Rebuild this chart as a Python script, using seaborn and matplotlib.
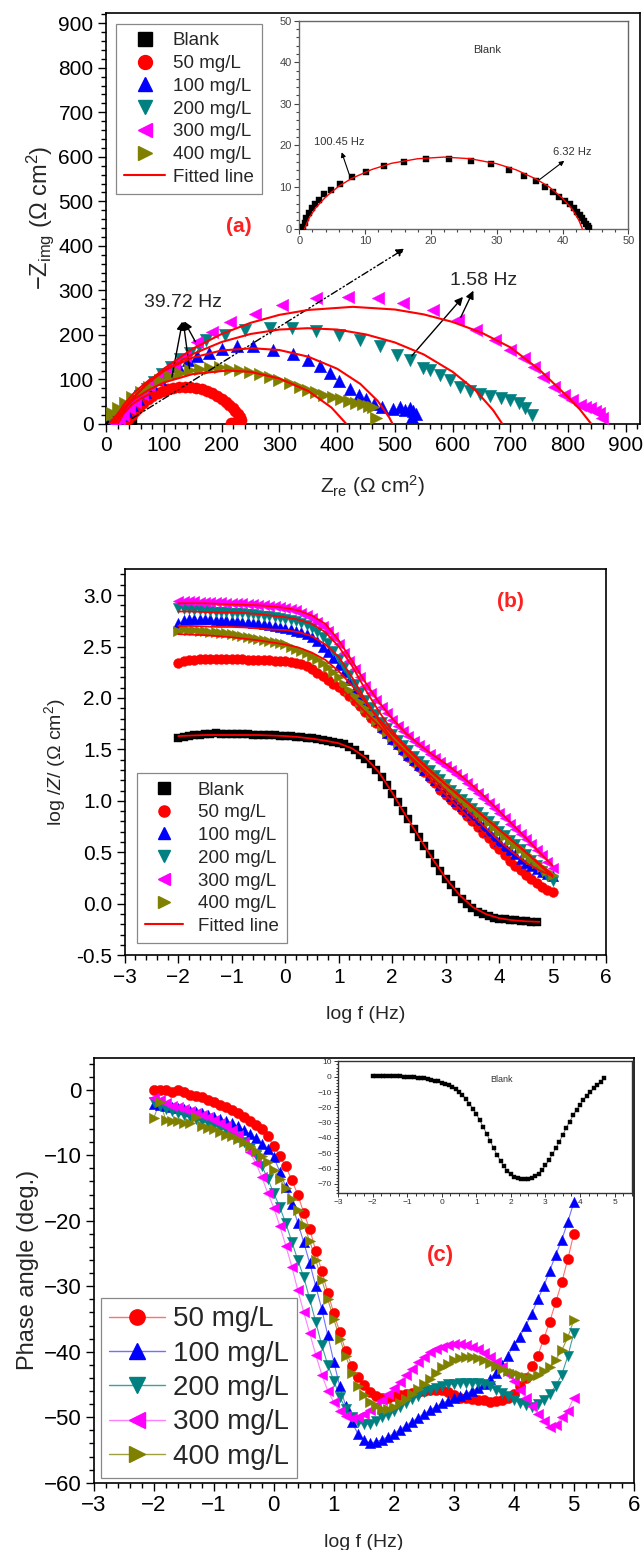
import numpy as np
import pandas as pd
import matplotlib
matplotlib.use("Agg")
import matplotlib.pyplot as plt
import seaborn as sns
from matplotlib.lines import Line2D
from matplotlib.ticker import MultipleLocator, AutoMinorLocator
from matplotlib import font_manager

sns.set_theme(style="white")
_names = {f.name for f in font_manager.fontManager.ttflist}
NARROW = "Liberation Sans Narrow" if "Liberation Sans Narrow" in _names else "Liberation Sans"
plt.rcParams["font.family"] = ["Liberation Sans", "DejaVu Sans"]
plt.rcParams["mathtext.fontset"] = "custom"
plt.rcParams["mathtext.rm"] = "Liberation Sans"
plt.rcParams["mathtext.it"] = "Liberation Sans:italic"
plt.rcParams["mathtext.bf"] = "Liberation Sans:bold"

# ---------------- series identity ----------------
LABELS = ["Blank", "50 mg/L", "100 mg/L", "200 mg/L", "300 mg/L", "400 mg/L"]
COLORS = ["#000000", "#ff0000", "#0000ff", "#008080", "#ff00ff", "#808000"]
LINE_COLORS = ["#555555", "#ff7070", "#7070ff", "#40a0a0", "#ff80ff", "#a0a040"]
MARKERS = ["s", "o", "^", "v", "<", ">"]

# ---------------- (a) Nyquist data ----------------
BLANK_RE = [0.6, 0.8, 1.0, 1.4, 1.9, 2.4, 3.0, 3.7, 4.8, 6.2, 8.0, 10.2, 12.8, 15.9, 19.2, 22.8,
            26.1, 29.1, 31.9, 34.1, 35.9, 37.3, 38.5, 39.5, 40.4, 41.1, 41.7, 42.2, 42.6, 43.0,
            43.3, 43.6, 43.8, 44.0]
BLANK_IM = [0.5, 1.4, 2.5, 3.7, 4.9, 5.9, 7.0, 8.3, 9.3, 10.7, 12.5, 13.7, 15.1, 16.1, 16.7, 16.7,
            16.3, 15.5, 14.1, 12.7, 11.5, 10.1, 8.7, 7.7, 6.7, 5.8, 4.9, 4.1, 3.3, 2.5,
            1.8, 1.1, 0.6, 0.2]
C50_RE = [38, 44, 50, 57, 64, 72, 80, 89, 98, 107, 116, 126, 136, 146, 156, 166, 175, 184, 192,
          200, 207, 213, 219, 224, 228, 231, 233, 232, 228, 222, 216]
C50_IM = [10, 20, 30, 39, 48, 56, 63, 69, 74, 78, 81, 83, 84, 83, 81, 78, 74, 69, 63,
          57, 50, 43, 36, 29, 22, 15, 9, 4, 2, 1, 2]
C100_RE = [10, 17, 25, 34, 44, 55, 67, 80, 94, 109, 125, 141, 158, 179, 200, 226, 255, 289, 324,
           350, 370, 387, 404, 422, 438, 450, 464, 478, 496, 508, 518, 526, 532, 537, 530]
C100_IM = [2, 9, 19, 30, 43, 57, 72, 87, 102, 117, 131, 143, 152, 160, 168, 174, 174, 165, 157,
           144, 130, 115, 97, 79, 66, 55, 45, 38, 33, 38, 32, 36, 28, 22, 15]
C200_RE = [12, 20, 28, 37, 47, 58, 70, 83, 97, 112, 128, 145, 160, 173, 205, 240, 283, 321, 364,
           404, 439, 474, 503, 526, 549, 560, 578, 595, 613, 630, 648, 665, 683, 700, 715, 726, 738]
C200_IM = [2, 10, 20, 32, 46, 62, 78, 95, 112, 128, 145, 160, 175, 189, 200, 211, 215, 215, 208,
           200, 189, 174, 155, 144, 125, 121, 110, 99, 84, 73, 67, 63, 58, 54, 46, 35, 20]
C300_RE = [15, 22, 30, 40, 50, 62, 75, 88, 102, 118, 137, 158, 183, 215, 258, 304, 364, 418, 471,
           514, 566, 609, 641, 673, 700, 723, 740, 757, 775, 792, 806, 821, 830, 838, 846, 853, 859]
C300_IM = [2, 10, 20, 35, 50, 67, 85, 100, 118, 135, 152, 185, 207, 230, 248, 267, 282, 286, 282,
           271, 256, 234, 211, 189, 166, 147, 128, 106, 84, 65, 54, 43, 38, 35, 30, 24, 13]
C400_RE = [2, 10, 20, 32, 45, 60, 75, 93, 110, 128, 145, 162, 180, 197, 215, 232, 250, 266, 283,
           300, 318, 335, 350, 364, 378, 393, 407, 421, 433, 445, 455, 462, 468]
C400_IM = [15, 25, 36, 48, 60, 72, 84, 98, 108, 115, 121, 124, 126, 127, 124, 121, 116, 112, 105,
           99, 91, 84, 77, 71, 65, 60, 56, 52, 48, 44, 41, 38, 13]

# fitted arcs
FIT50_RE = [20, 30, 45, 60, 80, 100, 127, 150, 175, 195, 210, 225, 235]
FIT50_IM = [0, 23, 44, 57, 70, 77, 80, 78, 70, 57, 44, 23, 0]
FIT100_RE = [10, 30, 50, 75, 100, 150, 200, 253, 300, 350, 400, 440, 470, 490, 496]
FIT100_IM = [0, 42, 72, 99, 120, 149, 165, 170, 166, 151, 124, 90, 52, 15, 0]
FIT200_RE = [12, 30, 50, 75, 100, 150, 200, 250, 300, 349, 400, 450, 500, 550, 600, 640, 670, 686]
FIT200_IM = [0, 34, 64, 94, 119, 157, 184, 202, 212, 215, 212, 201, 183, 156, 117, 75, 31, 0]
FIT300_RE = [15, 30, 50, 75, 100, 150, 200, 250, 300, 350, 427, 500, 550, 600, 650, 700, 750, 800, 820, 840]
FIT300_IM = [0, 29, 62, 96, 124, 169, 202, 227, 245, 256, 263, 257, 246, 229, 205, 172, 122, 60, 33, 0]
FIT400_RE = [5, 25, 50, 75, 100, 150, 210, 250, 300, 350, 390, 416]
FIT400_IM = [0, 30, 57, 77, 93, 112, 120, 117, 102, 74, 37, 0]
FITBLANK_RE = [0.8, 1.5, 2.5, 4, 6, 8, 11, 14, 18, 22, 26, 30, 33, 36, 38, 40, 41.5, 42.5, 43]
FITBLANK_IM = [0, 2.6, 5.0, 7.6, 10.2, 12.1, 14.2, 15.7, 16.8, 17.2, 16.8, 15.6, 14.1, 11.9, 10.0, 7.3, 4.6, 1.95, 0]

# ---------------- (b),(c) Bode data ----------------
LOGF = [-2.0, -1.9, -1.8, -1.7, -1.6, -1.5, -1.4, -1.3, -1.2, -1.1, -1.0, -0.9, -0.8, -0.7, -0.6,
        -0.5, -0.4, -0.3, -0.2, -0.1, 0.0, 0.1, 0.2, 0.3, 0.4, 0.5, 0.6, 0.7, 0.8, 0.9, 1.0, 1.1,
        1.2, 1.3, 1.4, 1.5, 1.6, 1.7, 1.8, 1.9, 2.0, 2.1, 2.2, 2.3, 2.4, 2.5, 2.6, 2.7, 2.8, 2.9,
        3.0, 3.1, 3.2, 3.3, 3.4, 3.5, 3.6, 3.7, 3.8, 3.9, 4.0, 4.1, 4.2, 4.3, 4.4, 4.5, 4.6, 4.7,
        4.8, 4.9, 5.0]
FIT_LOGF = [-2.0, -1.75, -1.5, -1.25, -1.0, -0.75, -0.5, -0.25, 0.0, 0.25, 0.5, 0.75, 1.0, 1.25,
            1.5, 1.75, 2.0, 2.25, 2.5, 2.75, 3.0, 3.25, 3.5, 3.75, 4.0, 4.25, 4.5, 4.75, 5.0]

Z_BLANK = [1.61, 1.62, 1.63, 1.64, 1.645, 1.65, 1.65, 1.655, 1.65, 1.65, 1.65, 1.65, 1.65, 1.65,
           1.645, 1.645, 1.64, 1.64, 1.64, 1.635, 1.63, 1.63, 1.62, 1.62, 1.61, 1.61, 1.60, 1.59,
           1.58, 1.575, 1.565, 1.55, 1.525, 1.49, 1.45, 1.41, 1.36, 1.30, 1.23, 1.15, 1.07, 0.99,
           0.90, 0.82, 0.73, 0.65, 0.565, 0.48, 0.40, 0.32, 0.245, 0.18, 0.11, 0.05, 0.00, -0.04,
           -0.075, -0.10, -0.12, -0.135, -0.145, -0.15, -0.155, -0.16, -0.165, -0.17, -0.175, -0.18]
Z_50 = [2.34, 2.36, 2.37, 2.37, 2.375, 2.375, 2.375, 2.375, 2.375, 2.375, 2.375, 2.375, 2.375,
        2.37, 2.37, 2.37, 2.37, 2.365, 2.36, 2.36, 2.355, 2.35, 2.34, 2.33, 2.31, 2.28, 2.24, 2.21,
        2.17, 2.14, 2.11, 2.07, 2.02, 1.97, 1.92, 1.86, 1.81, 1.76, 1.70, 1.65, 1.59, 1.54, 1.48,
        1.43, 1.38, 1.33, 1.28, 1.22, 1.17, 1.11, 1.06, 1.01, 0.96, 0.91, 0.85, 0.80, 0.75, 0.69,
        0.64, 0.58, 0.53, 0.47, 0.42, 0.37, 0.33, 0.28, 0.24, 0.20, 0.16, 0.13, 0.11]
Z_100 = [2.73, 2.76, 2.77, 2.77, 2.77, 2.77, 2.765, 2.76, 2.76, 2.755, 2.75, 2.745, 2.74, 2.735,
         2.73, 2.725, 2.72, 2.71, 2.70, 2.69, 2.68, 2.67, 2.655, 2.64, 2.62, 2.59, 2.55, 2.50, 2.45,
         2.39, 2.32, 2.25, 2.17, 2.09, 2.01, 1.93, 1.86, 1.79, 1.72, 1.66, 1.60, 1.55, 1.50, 1.45,
         1.40, 1.35, 1.30, 1.25, 1.20, 1.15, 1.10, 1.05, 1.00, 0.95, 0.90, 0.86, 0.81, 0.76, 0.71,
         0.66, 0.61, 0.56, 0.52, 0.48, 0.44, 0.40, 0.37, 0.34, 0.31, 0.29, 0.27]
Z_200 = [2.87, 2.86, 2.86, 2.855, 2.85, 2.85, 2.845, 2.84, 2.84, 2.835, 2.83, 2.83, 2.825, 2.82,
         2.815, 2.81, 2.80, 2.795, 2.79, 2.78, 2.77, 2.76, 2.745, 2.73, 2.71, 2.68, 2.64, 2.59,
         2.53, 2.46, 2.38, 2.30, 2.22, 2.14, 2.06, 1.98, 1.91, 1.84, 1.77, 1.71, 1.65, 1.59, 1.54,
         1.49, 1.44, 1.39, 1.35, 1.30, 1.25, 1.21, 1.16, 1.11, 1.07, 1.02, 0.98, 0.93, 0.89, 0.84,
         0.80, 0.76, 0.71, 0.67, 0.62, 0.58, 0.53, 0.48, 0.43, 0.38, 0.32, 0.27, 0.22]
Z_300 = [2.94, 2.945, 2.94, 2.94, 2.935, 2.935, 2.93, 2.93, 2.93, 2.925, 2.925, 2.92, 2.92, 2.915,
         2.91, 2.905, 2.90, 2.895, 2.89, 2.885, 2.875, 2.865, 2.85, 2.83, 2.81, 2.78, 2.74, 2.70,
         2.65, 2.59, 2.52, 2.44, 2.36, 2.28, 2.20, 2.12, 2.05, 1.98, 1.91, 1.85, 1.79, 1.73, 1.68,
         1.63, 1.58, 1.54, 1.50, 1.46, 1.42, 1.38, 1.34, 1.30, 1.26, 1.22, 1.17, 1.13, 1.08, 1.03,
         0.98, 0.93, 0.88, 0.83, 0.78, 0.73, 0.68, 0.63, 0.58, 0.52, 0.47, 0.41, 0.35]
Z_400 = [2.65, 2.67, 2.665, 2.66, 2.655, 2.65, 2.645, 2.64, 2.635, 2.63, 2.62, 2.61, 2.60, 2.59,
         2.58, 2.57, 2.56, 2.55, 2.54, 2.53, 2.52, 2.50, 2.48, 2.46, 2.44, 2.41, 2.38, 2.34, 2.30,
         2.25, 2.20, 2.14, 2.08, 2.02, 1.96, 1.90, 1.84, 1.78, 1.73, 1.67, 1.62, 1.57, 1.52, 1.47,
         1.42, 1.38, 1.33, 1.29, 1.24, 1.20, 1.15, 1.11, 1.06, 1.02, 0.97, 0.93, 0.88, 0.84, 0.79,
         0.75, 0.70, 0.66, 0.61, 0.57, 0.53, 0.48, 0.44, 0.40, 0.36, 0.32, 0.28]
ZFIT_BLANK = [1.63, 1.635, 1.64, 1.64, 1.64, 1.64, 1.64, 1.635, 1.63, 1.62, 1.605, 1.585, 1.56,
              1.51, 1.42, 1.28, 1.08, 0.86, 0.65, 0.44, 0.25, 0.09, -0.03, -0.10, -0.14, -0.16,
              -0.17, -0.175]
ZFIT_50 = [2.36, 2.36, 2.36, 2.36, 2.36, 2.355, 2.35, 2.345, 2.335, 2.31, 2.27, 2.20, 2.11, 1.99,
           1.86, 1.73, 1.59, 1.46, 1.33, 1.19, 1.06, 0.93, 0.80, 0.67, 0.53, 0.40, 0.29, 0.19, 0.11]
ZFIT_100 = [2.70, 2.70, 2.695, 2.69, 2.69, 2.685, 2.675, 2.665, 2.66, 2.64, 2.60, 2.52, 2.40, 2.20,
            1.98, 1.78, 1.60, 1.475, 1.35, 1.225, 1.10, 0.975, 0.86, 0.735, 0.61, 0.50, 0.40, 0.325, 0.27]
ZFIT_200 = [2.84, 2.84, 2.835, 2.83, 2.83, 2.825, 2.815, 2.80, 2.785, 2.76, 2.72, 2.64, 2.50, 2.31,
            2.08, 1.87, 1.68, 1.53, 1.40, 1.28, 1.16, 1.05, 0.94, 0.83, 0.72, 0.61, 0.50, 0.38, 0.26]
ZFIT_300 = [2.92, 2.92, 2.92, 2.915, 2.91, 2.905, 2.90, 2.89, 2.875, 2.85, 2.80, 2.72, 2.56, 2.36,
            2.15, 1.96, 1.80, 1.66, 1.55, 1.45, 1.36, 1.26, 1.15, 1.03, 0.90, 0.77, 0.64, 0.50, 0.37]
ZFIT_400 = [2.62, 2.615, 2.61, 2.60, 2.59, 2.575, 2.56, 2.54, 2.52, 2.49, 2.44, 2.37, 2.26, 2.12,
            1.96, 1.80, 1.65, 1.52, 1.39, 1.27, 1.16, 1.05, 0.94, 0.83, 0.72, 0.61, 0.50, 0.39, 0.28]

P_BLANK = [0.6, 0.6, 0.7, 0.8, 0.7, 0.6, 0.4, 0.3, 0.2, 0.1, 0.0, -0.2, -0.4, -0.6, -0.8, -1.1,
           -1.5, -1.9, -2.5, -3.1, -3.8, -4.7, -5.7, -6.8, -8.2, -9.9, -12.0, -14.6, -17.5, -20.8,
           -24.3, -28.5, -32.8, -37.3, -42.0, -46.6, -51.0, -55.0, -58.6, -61.6, -63.8, -65.3,
           -66.3, -66.8, -67.0, -66.8, -66.0, -64.8, -63.3, -61.0, -58.0, -54.5, -50.8, -46.8,
           -42.5, -38.0, -33.5, -29.3, -25.3, -21.6, -18.2, -15.2, -12.4, -9.9, -7.6, -5.4, -3.2, -0.8]
P_50 = [0.0, -0.1, -0.1, -0.3, 0.0, -0.4, -0.8, -1.0, -1.1, -1.5, -1.8, -2.3, -2.7, -3.1, -3.6,
        -4.2, -4.7, -5.4, -6.0, -7.1, -8.6, -10.1, -11.7, -13.8, -16.0, -18.8, -21.3, -24.6, -27.7,
        -31.0, -34.1, -37.0, -39.9, -42.1, -43.8, -45.1, -46.1, -46.8, -47.1, -47.0, -46.8, -46.6,
        -46.4, -46.3, -46.1, -46.0, -45.8, -45.8, -45.9, -46.2, -46.6, -47.0, -47.1, -47.2, -47.3,
        -47.4, -47.6, -47.5, -47.3, -47.0, -46.5, -45.3, -44.0, -42.1, -40.6, -38.0, -35.4, -32.4,
        -29.4, -25.9, -22.0]
P_100 = [-2.1, -2.3, -2.4, -2.6, -2.8, -3.0, -3.2, -3.4, -3.6, -3.8, -4.1, -4.4, -4.7, -5.1, -5.6,
         -6.2, -6.8, -7.4, -8.2, -9.0, -10.3, -12.5, -14.8, -17.4, -20.3, -23.3, -26.5, -30.0,
         -33.5, -37.5, -41.5, -45.3, -48.3, -50.7, -52.5, -53.5, -53.9, -53.8, -53.4, -53.0, -52.5,
         -51.9, -51.3, -50.7, -50.1, -49.5, -48.9, -48.4, -47.9, -47.5, -47.1, -46.8, -46.4, -46.0,
         -45.5, -44.9, -44.1, -43.2, -42.0, -40.6, -39.0, -37.7, -36.0, -34.2, -32.0, -30.0, -27.6,
         -25.2, -22.9, -20.2, -17.2]
P_200 = [-1.8, -2.5, -3.0, -3.3, -3.6, -3.9, -4.2, -4.5, -4.8, -5.1, -5.4, -5.8, -6.2, -6.7, -7.2,
         -8.0, -8.9, -10.0, -11.6, -13.6, -15.8, -17.9, -20.4, -23.2, -26.0, -28.6, -32.0, -35.5,
         -39.0, -42.0, -44.4, -46.9, -48.7, -50.0, -50.8, -51.1, -51.0, -50.5, -50.0, -49.6, -49.0,
         -48.4, -47.8, -47.2, -46.7, -46.2, -45.8, -45.5, -45.2, -45.0, -44.9, -44.8, -44.7, -44.7,
         -44.8, -45.0, -45.3, -45.8, -46.3, -46.8, -47.3, -47.8, -48.2, -48.4, -48.0, -47.3, -46.4,
         -45.2, -43.5, -40.7, -37.2]
P_300 = [-1.2, -1.6, -2.0, -2.4, -2.7, -3.0, -3.3, -3.6, -3.9, -4.2, -4.6, -5.0, -5.5, -6.1, -6.9,
         -8.0, -9.5, -11.2, -13.3, -15.8, -18.0, -20.8, -23.8, -27.0, -30.6, -34.0, -37.2, -40.5,
         -43.5, -46.0, -47.7, -49.0, -49.8, -50.1, -50.0, -49.5, -48.9, -48.2, -47.4, -46.5, -45.6,
         -44.6, -43.6, -42.6, -41.6, -40.8, -40.1, -39.6, -39.2, -39.0, -38.8, -38.8, -38.9, -39.2,
         -39.6, -40.2, -40.8, -41.5, -42.4, -43.4, -44.5, -45.8, -47.1, -48.3, -49.5, -50.5, -51.5,
         -51.2, -50.0, -49.0, -47.0]
P_400 = [-4.3, -1.8, -4.6, -4.8, -4.8, -5.0, -5.0, -4.1, -5.6, -5.8, -6.0, -6.4, -6.9, -7.1, -7.5,
         -8.0, -8.6, -9.3, -10.1, -11.0, -12.2, -13.6, -15.0, -16.7, -18.4, -20.7, -23.1, -26.0,
         -29.0, -32.0, -35.0, -38.0, -40.6, -43.3, -45.3, -46.6, -47.6, -48.3, -48.8, -48.8, -48.4,
         -47.8, -47.2, -46.5, -45.7, -44.9, -44.1, -43.2, -42.4, -41.8, -41.3, -41.0, -40.8, -40.8,
         -40.9, -41.3, -41.7, -42.2, -42.6, -42.9, -43.2, -43.5, -43.8, -43.9, -43.6, -43.0, -42.3,
         -41.2, -39.8, -37.8, -35.2]

NYQ = [(BLANK_RE, BLANK_IM), (C50_RE, C50_IM), (C100_RE, C100_IM), (C200_RE, C200_IM),
       (C300_RE, C300_IM), (C400_RE, C400_IM)]
NYQ_FITS = [(FIT50_RE, FIT50_IM), (FIT100_RE, FIT100_IM), (FIT200_RE, FIT200_IM),
            (FIT300_RE, FIT300_IM), (FIT400_RE, FIT400_IM)]
ZMOD = [Z_BLANK, Z_50, Z_100, Z_200, Z_300, Z_400]
ZFITS = [ZFIT_BLANK, ZFIT_50, ZFIT_100, ZFIT_200, ZFIT_300, ZFIT_400]
PHASE = [None, P_50, P_100, P_200, P_300, P_400]


def style_axes(ax, fs, major_len=6, minor_len=3.5):
    for sp in ax.spines.values():
        sp.set_color("black")
        sp.set_linewidth(1.2)
        sp.set_visible(True)
    ax.tick_params(which="both", direction="out", top=False, right=False,
                   bottom=True, left=True, colors="black", width=1.0)
    ax.tick_params(which="major", length=major_len, labelsize=fs, pad=3)
    ax.tick_params(which="minor", length=minor_len)
    ax.xaxis.set_minor_locator(AutoMinorLocator(5))
    ax.yaxis.set_minor_locator(AutoMinorLocator(5))


def scatter(ax, x, y, color, marker, s, z=3):
    df = pd.DataFrame({"x": x, "y": y})
    sns.scatterplot(data=df, x="x", y="y", ax=ax, color=color, marker=marker, s=s,
                    edgecolor=color, linewidth=0.3, legend=False, zorder=z)


def line(ax, x, y, color, lw, z=5, alpha=1.0, ls="-"):
    df = pd.DataFrame({"x": x, "y": y})
    sns.lineplot(data=df, x="x", y="y", ax=ax, color=color, lw=lw, sort=False,
                 estimator=None, legend=False, zorder=z, alpha=alpha, linestyle=ls)


fig = plt.figure(figsize=(6.43, 15.5), dpi=100)

# =============== (a) Nyquist ===============
axA = fig.add_axes([0.165, 0.7265, 0.830, 0.2654])
sizesA = [45, 65, 80, 80, 80, 80]
for (re, im), col, mk, s in zip(NYQ, COLORS, MARKERS, sizesA):
    scatter(axA, re, im, col, mk, s)
for re, im in NYQ_FITS:
    line(axA, re, im, "#ff0000", 1.5, z=6)
axA.set_xlim(0, 924)
axA.set_ylim(0, 924)
axA.xaxis.set_major_locator(MultipleLocator(100))
axA.yaxis.set_major_locator(MultipleLocator(100))
style_axes(axA, 15)
axA.set_xlabel(r"Z$_{\mathrm{re}}$ ($\Omega$ cm$^2$)", fontsize=15, labelpad=13)
axA.set_ylabel(r"$-$Z$_{\mathrm{img}}$ ($\Omega$ cm$^2$)", fontsize=17, labelpad=2)

axA.text(229, 443, "(a)", color="#ff2020", fontsize=15, fontweight="bold",
         family=[NARROW, "DejaVu Sans"], ha="center", va="center")
axA.text(133, 272, "39.72 Hz", fontsize=14, ha="center", va="center")
for px, py in [(113, 99), (145, 118), (157, 179)]:
    axA.annotate("", xy=(133, 236), xytext=(px, py),
                 arrowprops=dict(arrowstyle="-|>", color="black", lw=1.0, mutation_scale=12))
axA.text(653, 323, "1.58 Hz", fontsize=14, ha="center", va="center")
for (hx, hy), (px, py) in [((621, 290), (526, 148)), ((638, 305), (612, 234))]:
    axA.annotate("", xy=(hx, hy), xytext=(px, py),
                 arrowprops=dict(arrowstyle="-|>", color="black", lw=1.0, mutation_scale=12))
axA.annotate("", xy=(521, 397), xytext=(41, 9),
             arrowprops=dict(arrowstyle="-|>", color="black", lw=1.0, mutation_scale=12,
                             linestyle=(0, (5, 2, 1, 2, 1, 2))))

handlesA = [Line2D([], [], marker=m, color=c, linestyle="None", markersize=10) for m, c in zip(MARKERS, COLORS)]
handlesA.append(Line2D([], [], color="#ff0000", lw=1.5))
legA = axA.legend(handlesA, LABELS + ["Fitted line"], loc="upper left",
                  bbox_to_anchor=(0.018, 0.9725), borderaxespad=0, fontsize=13.5,
                  frameon=True, fancybox=False, edgecolor="#888888", framealpha=1,
                  handlelength=2.2, handletextpad=0.4, labelspacing=0.3, borderpad=0.45)
legA.get_frame().set_linewidth(0.9)

# inset (a)
axAi = fig.add_axes([0.4655, 0.8525, 0.5117, 0.1342])
scatter(axAi, BLANK_RE, BLANK_IM, "black", "s", 20)
line(axAi, FITBLANK_RE, FITBLANK_IM, "#ff0000", 1.0, z=6)
axAi.set_xlim(0, 50)
axAi.set_ylim(0, 50)
axAi.xaxis.set_major_locator(MultipleLocator(10))
axAi.yaxis.set_major_locator(MultipleLocator(10))
for sp in axAi.spines.values():
    sp.set_color("#666666")
    sp.set_linewidth(1.0)
axAi.tick_params(which="both", direction="out", top=False, right=False, bottom=True, left=True,
                 colors="#444444", width=0.8)
axAi.tick_params(which="major", length=3.5, labelsize=8, pad=2)
axAi.tick_params(which="minor", length=2)
axAi.xaxis.set_minor_locator(AutoMinorLocator(5))
axAi.yaxis.set_minor_locator(AutoMinorLocator(5))
axAi.set_xlabel("")
axAi.set_ylabel("")
axAi.text(28.5, 42.9, "Blank", fontsize=8, color="#333333", ha="center", va="center")
axAi.text(6.0, 20.8, "100.45 Hz", fontsize=8, color="#333333", ha="center", va="center")
axAi.annotate("", xy=(6.3, 19.0), xytext=(7.7, 12.5),
              arrowprops=dict(arrowstyle="-|>", color="black", lw=0.8, mutation_scale=7))
axAi.text(41.5, 18.3, "6.32 Hz", fontsize=8, color="#333333", ha="center", va="center")
axAi.annotate("", xy=(40.6, 16.7), xytext=(36.1, 11.3),
              arrowprops=dict(arrowstyle="-|>", color="black", lw=0.8, mutation_scale=7))

# =============== (b) Bode modulus ===============
axB = fig.add_axes([0.194, 0.3837, 0.7488, 0.249])
sizesB = [40, 50, 55, 55, 55, 55]
for k, (z, col, mk, s) in enumerate(zip(ZMOD, COLORS, MARKERS, sizesB)):
    scatter(axB, LOGF[:len(z)], z, col, mk, s)
for z in ZFITS:
    line(axB, FIT_LOGF[:len(z)], z, "#ff0000", 1.3, z=6)
axB.set_xlim(-3, 6)
axB.set_ylim(-0.5, 3.25)
axB.xaxis.set_major_locator(MultipleLocator(1))
axB.yaxis.set_major_locator(MultipleLocator(0.5))
axB.yaxis.set_major_formatter(matplotlib.ticker.FormatStrFormatter("%.1f"))
style_axes(axB, 15)
axB.set_xlabel("log f (Hz)", fontsize=14, labelpad=14)
axB.set_ylabel(r"log $\mathit{/Z/}$ ($\Omega$ cm$^2$)", fontsize=14, labelpad=6)
axB.text(4.21, 2.94, "(b)", color="#ff2020", fontsize=15, fontweight="bold",
         family=[NARROW, "DejaVu Sans"], ha="center", va="center")
handlesB = [Line2D([], [], marker=m, color=c, linestyle="None", markersize=8) for m, c in zip(MARKERS, COLORS)]
handlesB.append(Line2D([], [], color="#ff0000", lw=1.5))
legB = axB.legend(handlesB, LABELS + ["Fitted line"], loc="upper left",
                  bbox_to_anchor=(0.0255, 0.4723), borderaxespad=0, fontsize=13.5,
                  frameon=True, fancybox=False, edgecolor="#888888", framealpha=1,
                  handlelength=2.0, handletextpad=0.8, labelspacing=0.3, borderpad=0.45)
legB.get_frame().set_linewidth(0.9)

# =============== (c) Bode phase ===============
axC = fig.add_axes([0.1459, 0.0434, 0.8397, 0.2742])
for p, col, lcol, mk in zip(PHASE[1:], COLORS[1:], LINE_COLORS[1:], MARKERS[1:]):
    line(axC, LOGF, p, lcol, 0.8, z=2)
    scatter(axC, LOGF, p, col, mk, 55, z=3)
axC.set_xlim(-3, 6)
axC.set_ylim(-60, 4.9)
axC.xaxis.set_major_locator(MultipleLocator(1))
axC.yaxis.set_major_locator(MultipleLocator(10))
style_axes(axC, 16)
axC.set_xlabel("log f (Hz)", fontsize=14, labelpad=13)
axC.set_ylabel("Phase angle (deg.)", fontsize=17, labelpad=3)
axC.text(2.78, -25.3, "(c)", color="#ff2020", fontsize=16, fontweight="bold",
         family=[NARROW, "DejaVu Sans"], ha="center", va="center")
handlesC = [Line2D([], [], marker=m, color=lc, markerfacecolor=c, markeredgecolor=c,
                   lw=1.0, markersize=11) for m, c, lc in zip(MARKERS[1:], COLORS[1:], LINE_COLORS[1:])]
legC = axC.legend(handlesC, LABELS[1:], loc="upper left", bbox_to_anchor=(0.0133, 0.4346),
                  borderaxespad=0, fontsize=20, frameon=True, fancybox=False,
                  edgecolor="#888888", framealpha=1, handlelength=2.0, handletextpad=0.3,
                  labelspacing=0.3, borderpad=0.3)
legC.get_frame().set_linewidth(0.9)

# inset (c)
axCi = fig.add_axes([0.5257, 0.2303, 0.457, 0.0852])
line(axCi, LOGF[:len(P_BLANK)], P_BLANK, "#666666", 0.6, z=2)
scatter(axCi, LOGF[:len(P_BLANK)], P_BLANK, "black", "s", 8)
axCi.set_xlim(-3, 5.5)
axCi.set_ylim(-76, 10.3)
axCi.xaxis.set_major_locator(MultipleLocator(1))
axCi.yaxis.set_major_locator(MultipleLocator(10))
for sp in axCi.spines.values():
    sp.set_color("#333333")
    sp.set_linewidth(1.0)
axCi.tick_params(which="both", direction="out", top=False, right=False, bottom=True, left=True,
                 colors="#333333", width=0.7)
axCi.tick_params(which="major", length=3, labelsize=6, pad=1.5)
axCi.tick_params(which="minor", length=1.8)
axCi.xaxis.set_minor_locator(AutoMinorLocator(4))
axCi.yaxis.set_minor_locator(AutoMinorLocator(5))
axCi.set_xlabel("")
axCi.set_ylabel("")
axCi.text(1.74, -1.5, "Blank", fontsize=6.5, color="#333333", ha="center", va="center")

fig.savefig("out.png", dpi=100)
